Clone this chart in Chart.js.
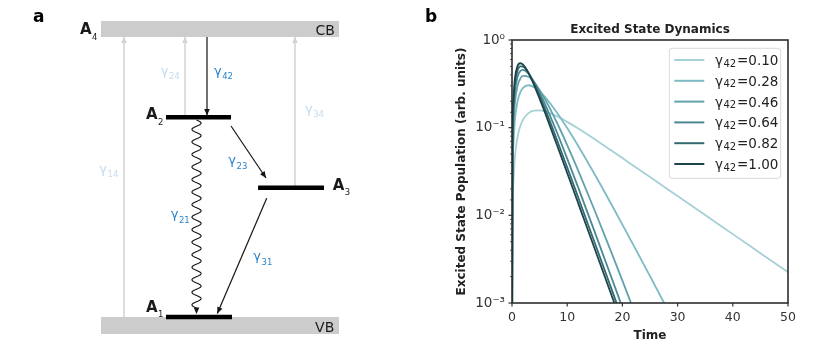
<!DOCTYPE html>
<html>
<head>
<meta charset="utf-8">
<script src="https://cdn.jsdelivr.net/npm/chart.js@4.4.1/dist/chart.umd.min.js"></script>
<style>
html,body{margin:0;padding:0;background:#ffffff;}
#wrap{position:relative;width:830px;height:361px;overflow:hidden;}
#boxA{position:absolute;left:0;top:0;width:420px;height:361px;}
#boxB{position:absolute;left:420px;top:0;width:410px;height:361px;}
</style>
</head>
<body>
<div id="wrap">
  <div id="boxA"><canvas id="diagram"></canvas></div>
  <div id="boxB"><canvas id="dynamics"></canvas></div>
</div>
<script>
// ===================== DATA: panel b (Excited State Dynamics) =====================
const timePoints = [0, 0.1, 0.25, 0.5, 1, 1.5, 2, 3, 4, 5, 6, 8, 10, 12, 15, 18, 20, 22, 25, 28, 30, 35, 40, 45, 50];
const gamma42Values = [0.10, 0.28, 0.46, 0.64, 0.82, 1.00];
const popGamma010 = [0.0001, 0.009754, 0.02349, 0.04417, 0.07817, 0.1040, 0.1231, 0.1465, 0.1561, 0.1571, 0.1527, 0.1362, 0.1165, 0.09766, 0.07355, 0.05485, 0.04500, 0.03688, 0.02735, 0.02027, 0.01659, 0.01007, 0.006105, 0.003703, 0.002246];
const popGamma028 = [0.0001, 0.02706, 0.06430, 0.1181, 0.1994, 0.2525, 0.2844, 0.3045, 0.2902, 0.2596, 0.2232, 0.1533, 0.09915, 0.06185, 0.02921, 0.01336, 0.007847, 0.004576, 0.002023, 0.000887, 0.000511, 0.000130, 0.000032, 0.0000079, 0.0000019];
const popGamma046 = [0.0001, 0.04406, 0.1033, 0.1855, 0.2993, 0.3621, 0.3895, 0.3804, 0.3303, 0.2689, 0.2103, 0.1191, 0.06336, 0.03238, 0.01128, 0.003777, 0.001798, 0.000846, 0.000271, 0.0000855, 0.0000393, 0.0000053, 0.0000007, 0.0000001, 0.00000001];
const popGamma064 = [0.0001, 0.06076, 0.1405, 0.2469, 0.3814, 0.4425, 0.4568, 0.4122, 0.3322, 0.2522, 0.1846, 0.09276, 0.04441, 0.02072, 0.006430, 0.001964, 0.000887, 0.000400, 0.000121, 0.0000365, 0.0000164, 0.0000022, 0.0000003, 0.00000004, 0.000000005];
const popGamma082 = [0.0001, 0.07715, 0.1761, 0.3028, 0.4488, 0.5008, 0.4985, 0.4212, 0.3207, 0.2319, 0.1629, 0.07682, 0.03522, 0.01596, 0.004831, 0.001458, 0.000655, 0.000294, 0.0000886, 0.0000267, 0.0000120, 0.0000016, 0.0000002, 0.00000003, 0.000000004];
const popGamma100 = [0.0001, 0.09325, 0.2101, 0.3537, 0.5041, 0.5428, 0.5233, 0.4190, 0.3060, 0.2143, 0.1471, 0.06738, 0.03045, 0.01371, 0.004131, 0.001244, 0.000559, 0.000251, 0.0000757, 0.0000228, 0.0000102, 0.0000014, 0.0000002, 0.00000003, 0.000000003];
const populationSeries = [popGamma010, popGamma028, popGamma046, popGamma064, popGamma082, popGamma100];
const xTickValues = [0, 10, 20, 30, 40, 50];
const yTickValues = [1, 0.1, 0.01, 0.001];
const yTickLabels = ['10⁰', '10⁻¹', '10⁻²', '10⁻³'];
const chartTitle = 'Excited State Dynamics';
const xAxisTitle = 'Time';
const yAxisTitle = 'Excited State Population (arb. units)';

// ===================== DATA: panel a (level diagram) =====================
// horizontal position u: 0 = left end of bands, 100 = right end; energy E: 0 = VB top, 10 = CB bottom
const bandNames = ['CB', 'VB'];
const bandLowE = [10.0, -0.607];
const bandHighE = [10.571, 0.0];
const bandStartU = [0, 0];
const bandEndU = [100, 100];
const bandLabelU = [98.3, 98.0];
const bandLabelE = [10.07, -0.525];

const levelNames = ['A1', 'A2', 'A3', 'A4'];
const levelLabelU = [18.91, 18.91, 97.35, -8.82];
const levelLabelE = [0.189, 7.071, 4.536, 10.096];
const levelBarNames = ['A1', 'A2', 'A3'];
const levelBarStartU = [27.31, 27.31, 66.0];
const levelBarEndU = [55.04, 54.62, 93.70];
const levelBarE = [0.0, 7.136, 4.618];

const transitionNames = ['γ14', 'γ24', 'γ34', 'γ42', 'γ23', 'γ21', 'γ31'];
const transitionKind = ['pump', 'pump', 'pump', 'decay', 'decay', 'wave', 'decay'];
const transStartU = [9.66, 35.29, 81.51, 44.54, 54.62, 40.13, 69.62];
const transStartE = [0.0, 7.14, 4.62, 10.0, 6.82, 7.036, 4.24];
const transEndU = [9.66, 35.29, 81.51, 44.54, 69.33, 40.13, 48.87];
const transEndE = [10.0, 10.0, 10.0, 7.196, 4.964, 0.107, 0.125];
const transLabelU = [-0.71, 25.08, 85.71, 47.48, 53.49, 29.29, 63.99];
const transLabelE = [5.16, 8.66, 7.30, 8.66, 5.45, 3.52, 2.02];

// ===================== STYLES =====================
const FONT = "'DejaVu Sans', 'Liberation Sans', sans-serif";
const lineColors = ['#a5d0d6', '#7dbbc4', '#62a2ab', '#4b8992', '#326971', '#1c444a'];
const bandColor = '#cccccc';
const pumpColor = '#d3d3d3';
const pumpLabelColor = '#c4dbef';
const decayLabelColor = '#2c84cc';

Chart.defaults.font.family = FONT;
Chart.defaults.color = '#333';

function drawSubText(ctx, x, y, main, sub, mainFont, subFont, drop, color, rest) {
  ctx.fillStyle = color;
  ctx.textAlign = 'left';
  ctx.textBaseline = 'alphabetic';
  ctx.font = mainFont;
  ctx.fillText(main, x, y);
  let cx = x + ctx.measureText(main).width + 0.5;
  ctx.font = subFont;
  ctx.fillText(sub, cx, y + drop);
  cx += ctx.measureText(sub).width + 0.8;
  if (rest) {
    ctx.font = mainFont;
    ctx.fillText(rest, cx, y);
  }
}

function drawHead(ctx, fx, fy, tx, ty, len, half, color) {
  const dx = tx - fx, dy = ty - fy, L = Math.hypot(dx, dy);
  const ux = dx / L, uy = dy / L, nx = -uy, ny = ux;
  const bx = tx - ux * len, by = ty - uy * len;
  ctx.fillStyle = color;
  ctx.beginPath();
  ctx.moveTo(tx, ty);
  ctx.lineTo(bx + nx * half, by + ny * half);
  ctx.lineTo(bx - nx * half, by - ny * half);
  ctx.closePath();
  ctx.fill();
}

// ===================== PANEL A =====================
const diagDatasets = [];
transitionNames.forEach((n, i) => {
  if (transitionKind[i] !== 'pump') return;
  diagDatasets.push({
    label: n, kind: 'pump',
    data: [{x: transStartU[i], y: transStartE[i]}, {x: transEndU[i], y: transEndE[i]}],
    borderColor: pumpColor, borderWidth: 1.5, pointRadius: 0, borderCapStyle: 'butt'
  });
});
levelBarNames.forEach((n, i) => {
  diagDatasets.push({
    label: n, kind: 'level',
    data: [{x: levelBarStartU[i], y: levelBarE[i]}, {x: levelBarEndU[i], y: levelBarE[i]}],
    borderColor: '#000000', borderWidth: 4.5, pointRadius: 0, borderCapStyle: 'butt'
  });
});
transitionNames.forEach((n, i) => {
  if (transitionKind[i] === 'pump') return;
  diagDatasets.push({
    label: n, kind: transitionKind[i],
    data: [{x: transStartU[i], y: transStartE[i]}, {x: transEndU[i], y: transEndE[i]}],
    borderColor: '#151515', borderWidth: 1.2, pointRadius: 0, borderCapStyle: 'butt',
    showLine: transitionKind[i] !== 'wave'
  });
});
diagDatasets.forEach((d, i) => { d.order = diagDatasets.length - i; });

const diagramPlugin = {
  id: 'diagramPlugin',
  beforeDatasetsDraw(chart) {
    const {ctx, scales: {x, y}} = chart;
    ctx.save();
    bandNames.forEach((n, i) => {
      const x0 = x.getPixelForValue(bandStartU[i]), x1 = x.getPixelForValue(bandEndU[i]);
      const y0 = y.getPixelForValue(bandHighE[i]), y1 = y.getPixelForValue(bandLowE[i]);
      ctx.fillStyle = bandColor;
      ctx.fillRect(x0, y0, x1 - x0, y1 - y0);
    });
    ctx.restore();
  },
  afterDatasetsDraw(chart) {
    const {ctx, scales: {x, y}} = chart;
    ctx.save();
    chart.data.datasets.forEach((ds, i) => {
      if (!['pump', 'decay', 'wave'].includes(ds.kind)) return;
      const pts = chart.getDatasetMeta(i).data;
      const p0 = pts[0], p1 = pts[1];
      if (ds.kind === 'wave') {
        const dx = p1.x - p0.x, dy = p1.y - p0.y, L = Math.hypot(dx, dy);
        const ux = dx / L, uy = dy / L, nx = -uy, ny = ux;
        const headLen = 6;
        const waveLen = L - headLen;
        const nPer = Math.round(waveLen / 12.6);
        const per = waveLen / nPer;
        ctx.strokeStyle = '#151515';
        ctx.lineWidth = 1.1;
        ctx.beginPath();
        for (let s = 0; s <= waveLen; s += 0.5) {
          const off = -4.6 * Math.sin(2 * Math.PI * s / per);
          const px = p0.x + ux * s + nx * off, py = p0.y + uy * s + ny * off;
          if (s === 0) ctx.moveTo(px, py); else ctx.lineTo(px, py);
        }
        ctx.stroke();
        drawHead(ctx, p0.x, p0.y, p1.x, p1.y, 6.5, 2.8, '#151515');
      } else if (ds.kind === 'pump') {
        drawHead(ctx, p0.x, p0.y, p1.x, p1.y, 6, 2.8, pumpColor);
      } else {
        drawHead(ctx, p0.x, p0.y, p1.x, p1.y, 6.5, 2.8, '#151515');
      }
    });
    transitionNames.forEach((n, i) => {
      const px = x.getPixelForValue(transLabelU[i]), py = y.getPixelForValue(transLabelE[i]);
      const col = transitionKind[i] === 'pump' ? pumpLabelColor : decayLabelColor;
      drawSubText(ctx, px, py, n[0], n.slice(1), `13px ${FONT}`, `8.5px ${FONT}`, 4.5, col);
    });
    levelNames.forEach((n, i) => {
      const px = x.getPixelForValue(levelLabelU[i]), py = y.getPixelForValue(levelLabelE[i]);
      drawSubText(ctx, px, py, n[0], n.slice(1), `bold 15px ${FONT}`, `8.5px ${FONT}`, 5.5, '#1a1a1a');
    });
    bandNames.forEach((n, i) => {
      ctx.fillStyle = '#1a1a1a';
      ctx.font = `14px ${FONT}`;
      ctx.textAlign = 'right';
      ctx.textBaseline = 'alphabetic';
      ctx.fillText(n, x.getPixelForValue(bandLabelU[i]), y.getPixelForValue(bandLabelE[i]));
    });
    ctx.fillStyle = '#000';
    ctx.font = `bold 17px ${FONT}`;
    ctx.textAlign = 'left';
    ctx.fillText('a', 33, 21.5);
    ctx.restore();
  }
};

new Chart(document.getElementById('diagram'), {
  type: 'line',
  data: {datasets: diagDatasets},
  options: {
    responsive: true, maintainAspectRatio: false, animation: false, events: [],
    layout: {padding: 0},
    plugins: {legend: {display: false}, tooltip: {enabled: false}},
    scales: {
      x: {type: 'linear', display: false, min: -42.437, max: 134.034},
      y: {type: 'linear', display: false, min: -1.5714, max: 11.3214}
    }
  },
  plugins: [diagramPlugin]
});

// ===================== PANEL B =====================
const dynDatasets = gamma42Values.map((g, i) => ({
  label: 'γ42=' + g.toFixed(2),
  data: timePoints.map((t, k) => ({x: t, y: populationSeries[i][k]})),
  borderColor: lineColors[i],
  backgroundColor: lineColors[i],
  borderWidth: 1.8,
  pointRadius: 0,
  cubicInterpolationMode: 'monotone',
  order: gamma42Values.length - i
}));

const dynPlugin = {
  id: 'dynPlugin',
  afterDatasetsDraw(chart) {
    const {ctx, chartArea: a} = chart;
    ctx.save();
    const bw = 111.4, bh = 130;
    const bx = a.right - 7.3 - bw, by = a.top + 8.3;
    ctx.beginPath();
    ctx.roundRect(bx, by, bw, bh, 3);
    ctx.fillStyle = 'rgba(255,255,255,0.85)';
    ctx.fill();
    ctx.strokeStyle = '#d9d9d9';
    ctx.lineWidth = 1;
    ctx.stroke();
    chart.data.datasets.forEach((ds, i) => {
      const ry = by + 11.7 + i * 20.8;
      ctx.strokeStyle = ds.borderColor;
      ctx.lineWidth = 2;
      ctx.beginPath();
      ctx.moveTo(bx + 5, ry);
      ctx.lineTo(bx + 35, ry);
      ctx.stroke();
      const lbl = ds.label;
      const eq = lbl.indexOf('=');
      drawSubText(ctx, bx + 45.7, ry + 5, lbl[0], lbl.slice(1, eq), `13.5px ${FONT}`, `10px ${FONT}`, 1.5, '#222', lbl.slice(eq));
    });
    ctx.restore();
  },
  afterDraw(chart) {
    const {ctx, chartArea: a, scales: {x, y}} = chart;
    ctx.save();
    ctx.strokeStyle = '#333';
    y.ticks.forEach(t => {
      const lg = Math.log10(t.value);
      const major = Math.abs(lg - Math.round(lg)) < 1e-6;
      const py = y.getPixelForValue(t.value);
      ctx.lineWidth = major ? 1.2 : 0.8;
      ctx.beginPath();
      ctx.moveTo(a.left, py);
      ctx.lineTo(a.left - (major ? 3.5 : 2), py);
      ctx.stroke();
    });
    xTickValues.forEach(v => {
      const px = x.getPixelForValue(v);
      ctx.lineWidth = 1.2;
      ctx.beginPath();
      ctx.moveTo(px, a.bottom);
      ctx.lineTo(px, a.bottom + 3.5);
      ctx.stroke();
    });
    ctx.lineWidth = 1.6;
    ctx.strokeStyle = '#2e2e2e';
    ctx.strokeRect(a.left, a.top, a.right - a.left, a.bottom - a.top);
    ctx.fillStyle = '#222';
    ctx.font = `bold 12px ${FONT}`;
    ctx.textAlign = 'center';
    ctx.textBaseline = 'alphabetic';
    ctx.fillText(chartTitle, (a.left + a.right) / 2, a.top - 7);
    ctx.fillStyle = '#000';
    ctx.font = `bold 17px ${FONT}`;
    ctx.textAlign = 'left';
    ctx.fillText('b', 5, 21.5);
    ctx.restore();
  }
};

new Chart(document.getElementById('dynamics'), {
  type: 'line',
  data: {datasets: dynDatasets},
  options: {
    responsive: true, maintainAspectRatio: false, animation: false, events: [],
    layout: {padding: {left: 31, right: 42, top: 40, bottom: 14}},
    plugins: {legend: {display: false}, tooltip: {enabled: false}},
    scales: {
      x: {
        type: 'linear', min: 0, max: 50,
        afterFit: s => { s.height = 44; },
        afterBuildTicks: s => { s.ticks = xTickValues.map(v => ({value: v})); },
        grid: {display: false, drawTicks: false},
        border: {display: false},
        ticks: {padding: 7, color: '#333', font: {size: 12.5}, maxRotation: 0, autoSkip: false,
                callback: v => String(v)},
        title: {display: true, text: xAxisTitle, color: '#222', font: {size: 12, weight: 'bold'}, padding: {top: 0, bottom: 4}}
      },
      y: {
        type: 'logarithmic', min: 0.001, max: 1,
        afterFit: s => { s.width = 61; },
        grid: {display: false, drawTicks: false},
        border: {display: false},
        ticks: {padding: 7, color: '#333', font: {size: 13.5}, autoSkip: false,
                callback: v => {
                  const k = yTickValues.findIndex(t => Math.abs(Math.log10(t) - Math.log10(v)) < 1e-6);
                  return k >= 0 ? yTickLabels[k] : '';
                }},
        title: {display: true, text: yAxisTitle, color: '#222', font: {size: 12, weight: 'bold'}, padding: {top: 4, bottom: 4}}
      }
    }
  },
  plugins: [dynPlugin]
});
</script>
</body>
</html>
